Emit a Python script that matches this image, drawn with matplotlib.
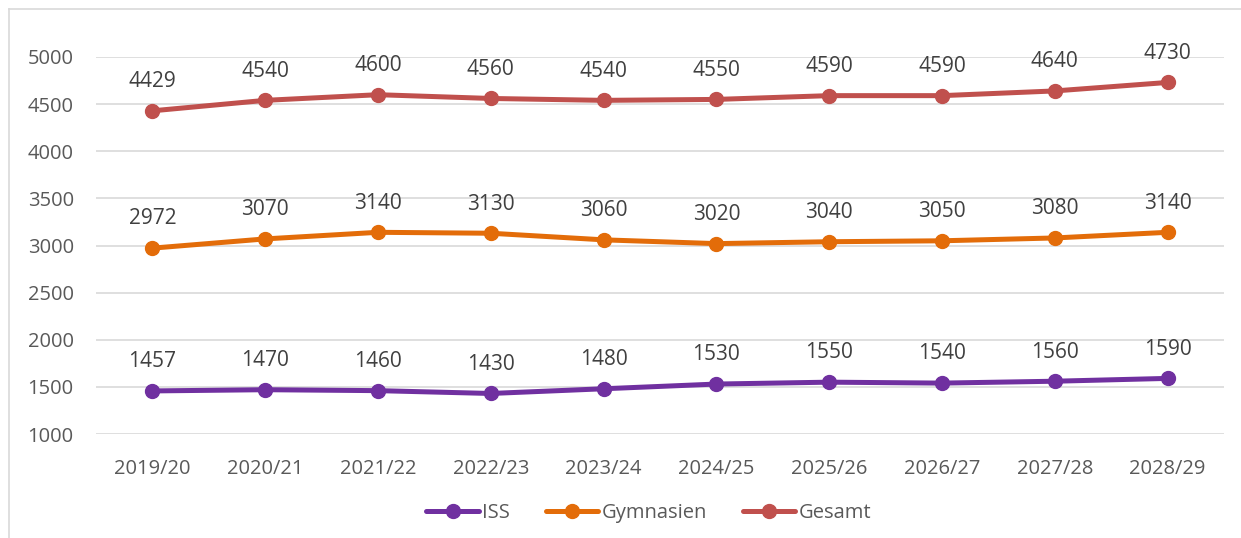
import matplotlib.pyplot as plt
from matplotlib.lines import Line2D

years = ['2019/20', '2020/21', '2021/22', '2022/23', '2023/24',
         '2024/25', '2025/26', '2026/27', '2027/28', '2028/29']
iss = [1457, 1470, 1460, 1430, 1480, 1530, 1550, 1540, 1560, 1590]
gymnasien = [2972, 3070, 3140, 3130, 3060, 3020, 3040, 3050, 3080, 3140]
gesamt = [4429, 4540, 4600, 4560, 4540, 4550, 4590, 4590, 4640, 4730]

plt.rcParams['font.family'] = ['Open Sans', 'DejaVu Sans']
text_color = '#595959'

fig = plt.figure(figsize=(12.41, 5.38), dpi=100)
ax = fig.add_axes([96 / 1241, 1 - 434 / 538, 1128 / 1241, 377 / 538])

x = range(len(years))
series = [('ISS', iss, '#7030A0'),
          ('Gymnasien', gymnasien, '#E36C09'),
          ('Gesamt', gesamt, '#C0504D')]
for name, vals, color in series:
    ax.plot(x, vals, color=color, linewidth=3.6, marker='o', markersize=10,
            label=name, solid_capstyle='round', clip_on=False, zorder=3)
    for i, v in enumerate(vals):
        ax.annotate(str(v), (i, v), xytext=(0, 21), textcoords='offset points',
                    ha='center', va='center', fontsize=15, color='#404040',
                    annotation_clip=False)

ax.set_xlim(-0.5, len(years) - 0.5)
ax.set_ylim(1000, 5000)
ax.set_yticks(range(1000, 5001, 500))
ax.set_xticks(list(x))
ax.set_xticklabels(years)
ax.grid(axis='y', color='#D9D9D9', linewidth=1.2)
ax.set_axisbelow(True)
for s in ax.spines.values():
    s.set_visible(False)
ax.tick_params(axis='both', length=0, labelsize=14.5, labelcolor=text_color)
ax.tick_params(axis='x', pad=18)
ax.tick_params(axis='y', pad=16)

leg = ax.legend(loc='center', bbox_to_anchor=(0.49, -0.21), ncol=3,
                frameon=False, fontsize=14.5, handlelength=2.6,
                columnspacing=1.8, handletextpad=0.15)
for t in leg.get_texts():
    t.set_color(text_color)

# chart frame along left and top edge
fig.add_artist(Line2D([9 / 1241, 9 / 1241], [0, 1 - 9 / 538],
                      transform=fig.transFigure, color='#D9D9D9', linewidth=1.2))
fig.add_artist(Line2D([9 / 1241, 1], [1 - 9 / 538, 1 - 9 / 538],
                      transform=fig.transFigure, color='#D9D9D9', linewidth=1.2))

fig.savefig('out.png', dpi=100)
